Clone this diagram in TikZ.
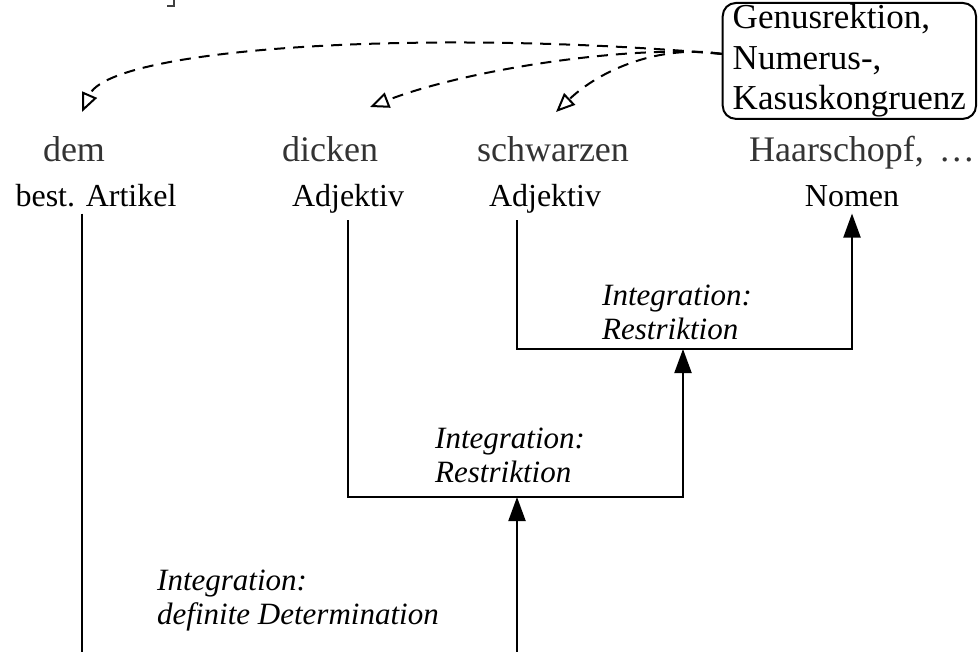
\documentclass[tikz,border=0pt]{standalone}
\usepackage{fontspec}
\setmainfont{Liberation Serif}
\usetikzlibrary{arrows.meta}

\begin{document}
\begin{tikzpicture}[x=1pt, y=-1pt,
    word/.style={anchor=base, inner sep=0pt, text=black!80, font=\fontsize{36}{40}\selectfont},
    cat/.style={anchor=base, inner xsep=0pt, inner ysep=6pt, font=\fontsize{32}{36}\selectfont},
    rule/.style={anchor=north west, inner sep=0pt, align=left, font=\fontsize{31}{34}\selectfont\itshape},
    link/.style={line width=2pt},
    rel/.style={line width=2pt, -{Triangle[length=24pt, width=17pt]}},
    agr/.style={line width=2pt, dash pattern=on 11pt off 8pt, -{Triangle[open, length=19pt, width=16pt]}}]
        \useasboundingbox (0,0) rectangle (979,652);

        % cut-off bracket at the top
        \draw[line width=2pt, black!75] (167,6) -- (174,6) -- (174,0);

        % words and word classes
        \node[word] (dem) at (74,162) {dem};
        \node[word] (dick) at (330,162) {dicken};
        \node[word] (schw) at (553,162) {schwarzen};
        \node[word] (haar) at (862,162) {Haarschopf,\, …};

        \node[cat] (art) at (96,207) {best. Artikel};
        \node[cat] (adja) at (348,207) {Adjektiv};
        \node[cat] (adjb) at (545,207) {Adjektiv};
        \node[cat] (nom) at (852,207) {Nomen};

        % agreement box
        \node[draw, line width=2pt, rounded corners=13pt, anchor=north east, align=left,
              inner xsep=10pt, inner ysep=1.5pt, font=\fontsize{35}{40.5}\selectfont]
              (box) at (977,2) {Genusrektion,\\Numerus-,\\Kasuskongruenz};

        \coordinate (t1) at (82,112);
        \coordinate (t2) at (370,107);
        \coordinate (t3) at (556,112);

        \draw[agr] ([yshift=7pt]box.west) .. controls (420,28) and (110,48) .. (t1);
        \draw[agr] ([yshift=7pt]box.west) .. controls (640,44) and (470,68) .. (t2);
        \draw[agr] ([yshift=7pt]box.west) .. controls (660,44) and (600,70) .. (t3);

        % integration steps
        \coordinate (j1) at (683,349);
        \coordinate (j2) at (517,497);
        \coordinate (root) at (517,652);
        \coordinate (foot) at (82,652);

        \draw[rel] ([xshift=-28pt]adjb.south) |- (j1 -| nom.south) -- (nom.south);
        \draw[rel] (adja.south) |- (j2 -| j1) -- (j1);
        \draw[rel] (root) -- (j2);
        \draw[link] ([xshift=-14pt]art.south) -- (foot);

        \node[rule] (r1) at (602,285) {Integration:\\Restriktion};
        \node[rule] (r2) at (435,428) {Integration:\\Restriktion};
        \node[rule] (r3) at (157,570) {Integration:\\definite Determination};
\end{tikzpicture}
\end{document}
